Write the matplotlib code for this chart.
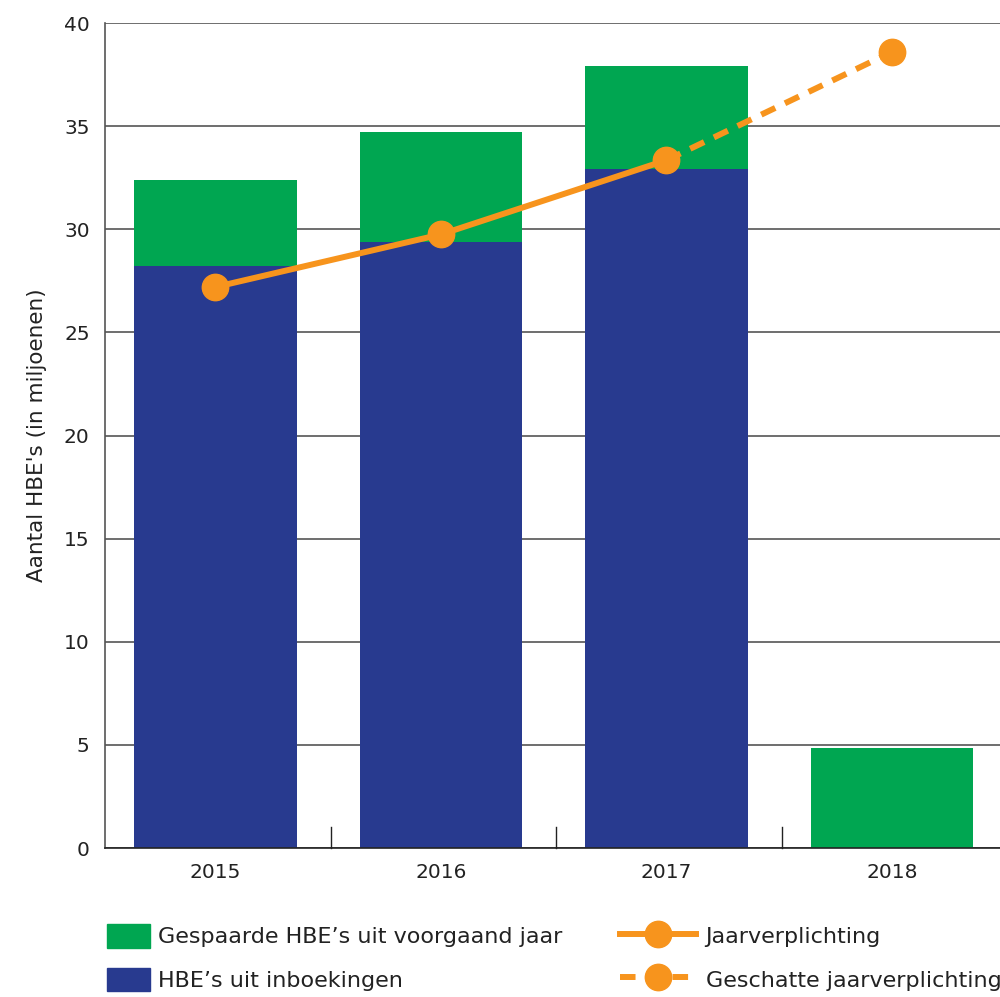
import matplotlib
matplotlib.use("Agg")
import matplotlib.pyplot as plt
from matplotlib.patches import Patch
from matplotlib.lines import Line2D

years = ["2015", "2016", "2017", "2018"]
inboekingen = [28.2, 29.4, 32.9, 0.0]
gespaard = [4.2, 5.3, 5.0, 4.85]
verplichting_years = [0, 1, 2]
verplichting = [27.2, 29.75, 33.35]
geschat_years = [2, 3]
geschat = [33.35, 38.6]
yticks = [0, 5, 10, 15, 20, 25, 30, 35, 40]

GREEN = "#00A651"
BLUE = "#283A8F"
ORANGE = "#F7941D"
GRID = "#555555"
TXT = "#222222"

plt.rcParams['font.family'] = ['DejaVu Sans']
fig = plt.figure(figsize=(10, 9.97), dpi=100)
W, H = 1000, 997
left, right, top, bottom = 105, 1007, 23, 848
ax = fig.add_axes([left / W, 1 - bottom / H, (right - left) / W, (bottom - top) / H])

x = list(range(len(years)))
ax.bar(x, inboekingen, width=0.72, color=BLUE, zorder=2)
ax.bar(x, gespaard, width=0.72, bottom=inboekingen, color=GREEN, zorder=2)
ax.plot(verplichting_years, verplichting, color=ORANGE, lw=4.3, marker='o', ms=19, zorder=4)
ax.plot(geschat_years, geschat, color=ORANGE, lw=4.3, ls=(0, (2.6, 1.8)), zorder=3)
ax.plot(geschat_years[1:], geschat[1:], color=ORANGE, marker='o', ms=19, ls='none', zorder=4)

ax.set_xlim(-0.49, 3.51)
ax.set_ylim(0, 40)
ax.set_yticks(yticks)
ax.set_yticklabels([str(v) for v in yticks], fontsize=14.5, color=TXT)
ax.yaxis.grid(True, color=GRID, lw=1.2, zorder=1)
ax.set_axisbelow(True)
ax.tick_params(axis='y', length=0, pad=11)
ax.set_xticks(x)
ax.set_xticklabels(years, fontsize=14.5, color=TXT)
ax.tick_params(axis='x', length=0, pad=11)
for b in [0.51, 1.51, 2.51]:
    ax.plot([b, b], [0, 1.0], color=TXT, lw=1, zorder=1, clip_on=False)

for s in ['top', 'right']:
    ax.spines[s].set_visible(False)
ax.spines['left'].set_color(GRID)
ax.spines['bottom'].set_color(TXT)
ax.spines['left'].set_linewidth(1.2)
ax.spines['bottom'].set_linewidth(1.2)

ax.set_ylabel("Aantal HBE's (in miljoenen)", fontsize=15.5, color=TXT, labelpad=12)

FS = 16
handles1 = [Patch(color=GREEN), Patch(color=BLUE)]
labels1 = ["Gespaarde HBE\u2019s uit voorgaand jaar", "HBE\u2019s uit inboekingen"]
fig.legend(handles1, labels1, loc='upper left', bbox_to_anchor=(107 / W, 1 - 924 / H),
           frameon=False, fontsize=FS, handlelength=1.95, handleheight=1.26,
           labelspacing=0.9, handletextpad=0.36, borderpad=0, borderaxespad=0,
           labelcolor=TXT)
handles2 = [Line2D([0], [0], color=ORANGE, lw=4.3, marker='o', ms=19),
            Line2D([0], [0], color=ORANGE, lw=4.3, ls=(0, (2.6, 1.8)), marker='o', ms=19)]
labels2 = ["Jaarverplichting", "Geschatte jaarverplichting"]
fig.legend(handles2, labels2, loc='upper left', bbox_to_anchor=(620 / W, 1 - 924 / H),
           frameon=False, fontsize=FS, handlelength=3.4, handleheight=1.26,
           labelspacing=0.9, handletextpad=0.45, borderpad=0, borderaxespad=0,
           labelcolor=TXT)

fig.savefig("out.png", dpi=100)
